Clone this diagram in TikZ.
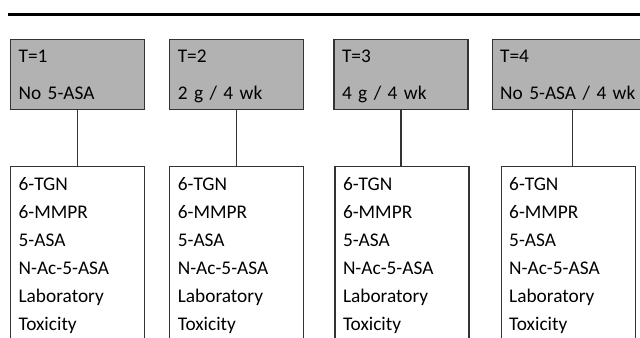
\documentclass[tikz,border=0pt]{standalone}
\usepackage{fontspec}
\setmainfont{Carlito}
\usetikzlibrary{positioning}
\definecolor{tpGray}{HTML}{B2B2B2}
\definecolor{tpEdge}{HTML}{333333}
\tikzset{
    tpTime/.style={
        draw=tpEdge,
        fill=tpGray,
        line width=0.9pt,
        anchor=north west,
        inner xsep=6pt,
        inner ysep=0pt,
        text width=88.5pt,
        align=left,
        text height=17.25pt,
        text depth=35.25pt,
        font=\fontsize{14.5}{27.75}\selectfont
    },
    tpList/.style={
        draw=tpEdge,
        fill=white,
        line width=0.9pt,
        anchor=north west,
        inner xsep=6pt,
        inner ysep=0pt,
        text width=88.5pt,
        align=left,
        text height=18pt,
        text depth=140pt,
        font=\fontsize{14.5}{21}\selectfont
    },
    tpLink/.style={draw=tpEdge,line width=0.8pt}
}

\begin{document}
\begin{tikzpicture}[x=0.75pt,y=-0.75pt]
    \useasboundingbox (0,0) rectangle (640,337);
    \clip (0,0) rectangle (640,337);

    % heading rule
    \draw[line width=2.25pt] (8,14) -- (640,14);

    % time points
    \node[tpTime] (t1) at (10,39) {T=1\\No 5-ASA};
    \node[tpTime,right=18pt of t1] (t2) {T=2\\2 g / 4 wk};
    \node[tpTime,right=21.75pt of t2] (t3) {T=3\\4 g / 4 wk};
    \node[tpTime,right=17.25pt of t3,text width=108pt] (t4) {T=4\\No 5-ASA / 4 wk};

    % measurements
    \node[tpList] (m1) at (10,166)
        {6-TGN\\6-MMPR\\5-ASA\\N-Ac-5-ASA\\Laboratory\\Toxicity};
    \node[tpList,right=18pt of m1] (m2)
        {6-TGN\\6-MMPR\\5-ASA\\N-Ac-5-ASA\\Laboratory\\Toxicity};
    \node[tpList,right=22.5pt of m2] (m3)
        {6-TGN\\6-MMPR\\5-ASA\\N-Ac-5-ASA\\Laboratory\\Toxicity};
    \node[tpList,right=23.25pt of m3] (m4)
        {6-TGN\\6-MMPR\\5-ASA\\N-Ac-5-ASA\\Laboratory\\Toxicity};

    % links
    \foreach \i in {1,...,4}
        \draw[tpLink] (t\i.south) -- (t\i.south |- m\i.north);
\end{tikzpicture}
\end{document}
